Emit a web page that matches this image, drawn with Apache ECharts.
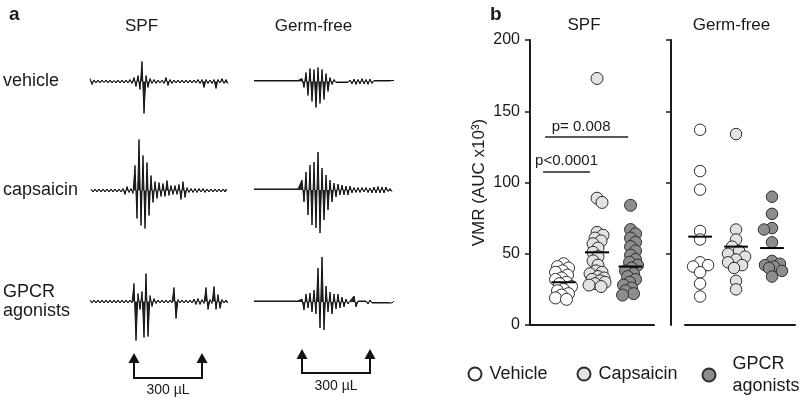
<!DOCTYPE html>
<html><head><meta charset="utf-8">
<script src="https://cdn.jsdelivr.net/npm/echarts@6/dist/echarts.min.js"></script>
<style>html,body{margin:0;padding:0;background:#fff}#c{width:800px;height:400px}</style>
</head><body><div id="c"></div>
<script>
// ===== Panel a: VMR traces, amplitude samples (one sample every 2 px) =====
const traceSpfVehicle = [3,-3,1.5,-1.5,1.5,-1.5,1.5,-1,1.5,-1.5,
  1.5,-1.5,1,-1.5,1.5,-1.5,1.5,-1.5,1.5,-1.5,
  2,-2,4,-5,6,-8,20,-32,6,-6,
  3,-2,2,-2,1.5,-1.5,1.5,-2,4,-4,
  2,-2,1.5,-1.5,1.5,-1.5,1.5,-1.5,1.5,-1.5,
  1.5,-1.5,1.5,-1.5,2,-2,2,-6,2,-2,
  1.5,-2,2,-7,2,-1.5,3,-2,2,-2];
const traceSpfCapsaicin = [1.5,-1.5,1.5,-1.5,1.5,-1.5,1.5,-1.5,1.5,-1.5,1.5,-1.5,1.5,-1.5,1.5,-1.5,
  2,-4,4,-2,2,-3,
  25,-28,51,-35,35,-38,28,-25,15,-12,9,-8,8,-6,7,-6,10,-5,5,-4,5,-4,6,-9,9,-7,3,-2,
  2,-2,2,-2,2,-1.5,2,-2,1.5,-1.5,1.5,-1.5,1.5,-1.5,1.5,-1.5,1.5,-1.5,1.5];
const traceSpfGpcr = [1.5,-1.5,1.5,-1.5,1.5,-1.5,1.5,-1.5,1.5,-1.5,1.5,-1.5,1.5,-1.5,1.5,-1.5,1.5,-1.5,1.5,-1.5,1.5,-1.5,
  18,-39,8,-8,10,-36,28,-35,6,-5,3,-2,
  1.5,-1.5,1.5,-1.5,1.5,-1.5,1.5,-1.5,
  14,-17,2,-1.5,
  1.5,-1.5,1.5,-1.5,1.5,-1.5,
  2.5,-3,3,-3,2,-2,14,-8,2,-2,15,-8,7,-7,2,-1.5,1.5,-1.5];
const traceGfVehicle = [1,-1,1,-1,1,-1,1,-1,1,-1,1,-1,1,-1,1,-1,1,-1,1,-1,1,-1,1,-1,
  3,-6,9,-14,13,-20,12,-26,14,-22,12,-18,8,-10,4,-3,2,
  -1,1,-1,1,-1,1,-1,1.5,
  -2.5,2.5,-3,2,-2.5,3,-2.5,2,-3,2.5,-2,
  1,-1,1,-1,1,-1,1,-1,1,-1,1];
const traceGfCapsaicin = [1,-1,1,-1,1,-1,1,-1,1,-1,1,-1,1,-1,1,-1,1,-1,1,-1,1,-1,1,-1,
  10,-12,18,-25,25,-35,28,-38,38,-43,22,-30,15,-20,10,-12,7,-7,6,-5,5,-5,4,-5,4,-3,
  2.5,-2.5,2.5,-2.5,2.5,-2,2.5,-2.5,2,
  -3,3,-3,3.5,-3,3,-3,3,
  -1.5,1.5,-1.5];
const traceGfGpcr = [1,-1,1,-1,1,-1,1,-1,1,-1,1,-1,1,-1,1,-1,1,-1,1,-1,1,-1,1,-1,
  3,-8,8,-6,9,-10,12,-12,34,-26,45,-28,16,-10,10,-12,8,-7,8,-6,5,-5,3,-2,1,-1,
  6,-5,
  1,-1,1,-1,1,-2,2,-1,1,-1,1,-1,1,-1,1,-1,1,-1,1];
// infusion marks (sample index on the GPCR traces)
const infusionSpf = [22.2, 55.5];
const infusionGf = [24.4, 57.6];
const infusionLabel = '300 µL';

// ===== Panel b: VMR (AUC x10^3) per animal =====
const groups = ['Vehicle', 'Capsaicin', 'GPCR agonists'];
const spfVehicle = [43,41,40,38,37,35,33,32,30,29,27,25,24,22,21,19,18];
const spfCapsaicin = [173,89,86,65,63,61,59,57,54,51,48,45,42,38,37,36,34,33,32,31,30,29,28,27];
const spfGpcr = [84,67,64,61,58,55,52,49,46,44,42,40,38,36,34,32,30,28,26,24,22,21];
const gfVehicle = [137,108,95,66,60,44,42,41,37,29,20];
const gfCapsaicin = [134,67,60,55,52,50,48,46,44,42,40,31,25];
const gfGpcr = [90,78,68,67,58,45,43,42,41,40,38,34];
const spfMeans = [30, 51, 41];
const gfMeans = [62, 55, 54];
const sigLabels = ['p<0.0001', 'p= 0.008'];
const sigHeights = [107.5, 132];
const yTicks = [0, 50, 100, 150, 200];

// ===== layout / styles =====
const FONT = '"Liberation Sans", Arial, Helvetica, sans-serif';
const INK = '#1a1a1a';
const fills = ['#ffffff', '#e2e2e2', '#8d8d8d'];
const traces = [
  {data: traceSpfVehicle, left: 90, base: 81.5},
  {data: traceSpfCapsaicin, left: 91, base: 190.5},
  {data: traceSpfGpcr, left: 90, base: 301.5},
  {data: traceGfVehicle, left: 254, base: 81.5},
  {data: traceGfCapsaicin, left: 254, base: 190},
  {data: traceGfGpcr, left: 254, base: 302}
];
const grids = [], xAxes = [], yAxes = [], series = [];
traces.forEach((t, i) => {
  grids.push({left: t.left, top: t.base - 55, width: 2 * (t.data.length - 1), height: 110});
  xAxes.push({gridIndex: i, type: 'category', boundaryGap: false, data: t.data.map((_, j) => j), show: false});
  yAxes.push({gridIndex: i, type: 'value', min: -55, max: 55, show: false});
  series.push({type: 'line', xAxisIndex: i, yAxisIndex: i, data: t.data, showSymbol: false, silent: true,
    lineStyle: {color: '#111', width: 1}, areaStyle: {color: '#222', opacity: 1, origin: 0}});
});

// scatter panels
const P = [
  {grid: {left: 530, top: 40, width: 124, height: 285}, xmin: -1, xmax: 2.7, sets: [spfVehicle, spfCapsaicin, spfGpcr], means: spfMeans, half: 0.36, minD: 6, maxOff: 8, size: 12},
  {grid: {left: 685, top: 40, width: 110, height: 285}, xmin: -0.42, xmax: 2.64, sets: [gfVehicle, gfCapsaicin, gfGpcr], means: gfMeans, half: 0.33, minD: 8, maxOff: 10, size: 11.5}
];
function swarm(vals, k, unitX, unitY, minD, maxOff) {
  const placed = [];
  return vals.map((v, n) => {
    const y = v * unitY;
    let best = 0, bestScore = -1;
    const cands = [0];
    const sgn = n % 2 ? -1 : 1;
    for (let d = 1; d <= maxOff; d++) { cands.push(sgn * d, -sgn * d); }
    for (const off of cands) {
      let md = Infinity;
      for (const p of placed) { md = Math.min(md, Math.hypot(off - p[0], y - p[1])); }
      if (md >= minD) { best = off; bestScore = md; break; }
      if (md > bestScore) { bestScore = md; best = off; }
    }
    placed.push([best, y]);
    return [k + best / unitX, v];
  });
}
P.forEach((p, pi) => {
  const gi = 6 + pi;
  grids.push(p.grid);
  const unitX = p.grid.width / (p.xmax - p.xmin);
  const unitY = p.grid.height / 200;
  xAxes.push({gridIndex: gi, type: 'value', min: p.xmin, max: p.xmax,
    axisLine: {show: true, onZero: false, lineStyle: {color: INK, width: 2}},
    axisTick: {show: false}, axisLabel: {show: false}, splitLine: {show: false}});
  const y = {gridIndex: gi, type: 'value', min: yTicks[0], max: yTicks[yTicks.length - 1], interval: yTicks[1] - yTicks[0],
    axisLine: {show: true, onZero: false, lineStyle: {color: INK, width: 2}},
    axisTick: {show: true, length: 5, lineStyle: {color: INK, width: 1.5}},
    axisLabel: {show: pi === 0, fontSize: 16, fontFamily: FONT, color: INK, margin: 10},
    splitLine: {show: false}};
  if (pi === 0) {
    Object.assign(y, {name: 'VMR (AUC x10³)', nameLocation: 'middle', nameGap: 42,
      nameTextStyle: {fontSize: 17, fontFamily: FONT, color: INK}});
  } else {
    y.offset = 14;
    y.axisTick.customValues = yTicks.slice(1);
  }
  yAxes.push(y);
  p.sets.forEach((vals, k) => {
    series.push({type: 'scatter', name: groups[k], xAxisIndex: gi, yAxisIndex: gi, z: 3,
      data: swarm(vals, k, unitX, unitY, p.minD, p.maxOff), symbol: 'circle', symbolSize: p.size,
      itemStyle: {color: fills[k], borderColor: '#2e2e2e', borderWidth: 1, opacity: 1}, silent: true});
  });
  p.means.forEach((m, k) => {
    const s = {type: 'line', xAxisIndex: gi, yAxisIndex: gi, z: 6, silent: true, showSymbol: false, symbol: 'none',
      data: [[k - p.half, m], [k + p.half, m]], lineStyle: {color: '#000', width: 2}};
    if (pi === 0 && k === 0) {
      s.markLine = {symbol: ['none', 'none'], silent: true, animation: false,
        lineStyle: {color: '#222', width: 1.5, type: 'solid'},
        label: {show: true, position: 'insideMiddleTop', distance: 3, formatter: '{b}', fontSize: 15, fontFamily: FONT, color: INK},
        data: [
          [{name: sigLabels[0], coord: [-0.61, sigHeights[0]]}, {coord: [0.79, sigHeights[0]]}],
          [{name: sigLabels[1], coord: [-0.55, sigHeights[1]], label: {padding: [0, 11, 0, 0]}}, {coord: [1.93, sigHeights[1]]}]
        ]};
    }
    series.push(s);
  });
});

const legendBase = {orient: 'horizontal', padding: 0, itemWidth: 13, itemHeight: 13, icon: 'circle', selectedMode: false,
  textStyle: {fontSize: 18, fontFamily: FONT, color: INK, lineHeight: 22, padding: [0, 0, 0, 3]}};
const legends = [
  Object.assign({}, legendBase, {left: 467.5, top: 363, data: [groups[0]]}),
  Object.assign({}, legendBase, {left: 576.5, top: 363, data: [groups[1]]}),
  Object.assign({}, legendBase, {left: 701.5, top: 353, data: [groups[2]], formatter: () => 'GPCR\nagonists',
    textStyle: Object.assign({}, legendBase.textStyle, {padding: [0, 0, 0, 12]})})
];

function txt(text, x, y, opt) {
  return {type: 'text', silent: true, style: Object.assign({text, x, y, fill: INK, fontFamily: FONT, fontSize: 17,
    textAlign: 'center', textVerticalAlign: 'middle'}, opt || {})};
}
const texts = [
  txt('a', 9, 15, {fontSize: 19, fontWeight: 'bold', textAlign: 'left'}),
  txt('b', 490, 15, {fontSize: 19, fontWeight: 'bold', textAlign: 'left'}),
  txt('SPF', 141.5, 26), txt('Germ-free', 313.5, 26),
  txt('SPF', 584, 25), txt('Germ-free', 731.5, 25),
  txt('vehicle', 3, 81, {fontSize: 18, textAlign: 'left'}),
  txt('capsaicin', 3, 190, {fontSize: 18, textAlign: 'left'}),
  txt('GPCR\nagonists', 3, 302, {fontSize: 18, textAlign: 'left', lineHeight: 19})
];

const chart = echarts.init(document.getElementById('c'), null, {renderer: 'canvas'});
chart.setOption({animation: false, backgroundColor: '#fff', grid: grids, xAxis: xAxes, yAxis: yAxes,
  legend: legends, series: series, graphic: texts});

// infusion arrows under the GPCR traces, positioned on the trace x scales
function infusion(axisIdx, idxs, tipY, baseY, hY, labelY) {
  const xs = idxs.map(v => chart.convertToPixel({xAxisIndex: axisIdx}, v));
  const els = [];
  els.push({type: 'polyline', silent: true, shape: {points: [[xs[0], baseY], [xs[0], hY], [xs[1], hY], [xs[1], baseY]]},
    style: {stroke: '#111', lineWidth: 2, fill: null}});
  xs.forEach(x => els.push({type: 'polygon', silent: true, shape: {points: [[x - 5.5, baseY], [x, tipY], [x + 5.5, baseY]]},
    style: {fill: '#111'}}));
  els.push(txt(infusionLabel, (xs[0] + xs[1]) / 2, labelY, {fontSize: 14}));
  return els;
}
chart.setOption({graphic: texts.concat(infusion(2, infusionSpf, 353, 363, 378, 390), infusion(5, infusionGf, 349, 359, 373, 386.5))});
</script></body></html>
